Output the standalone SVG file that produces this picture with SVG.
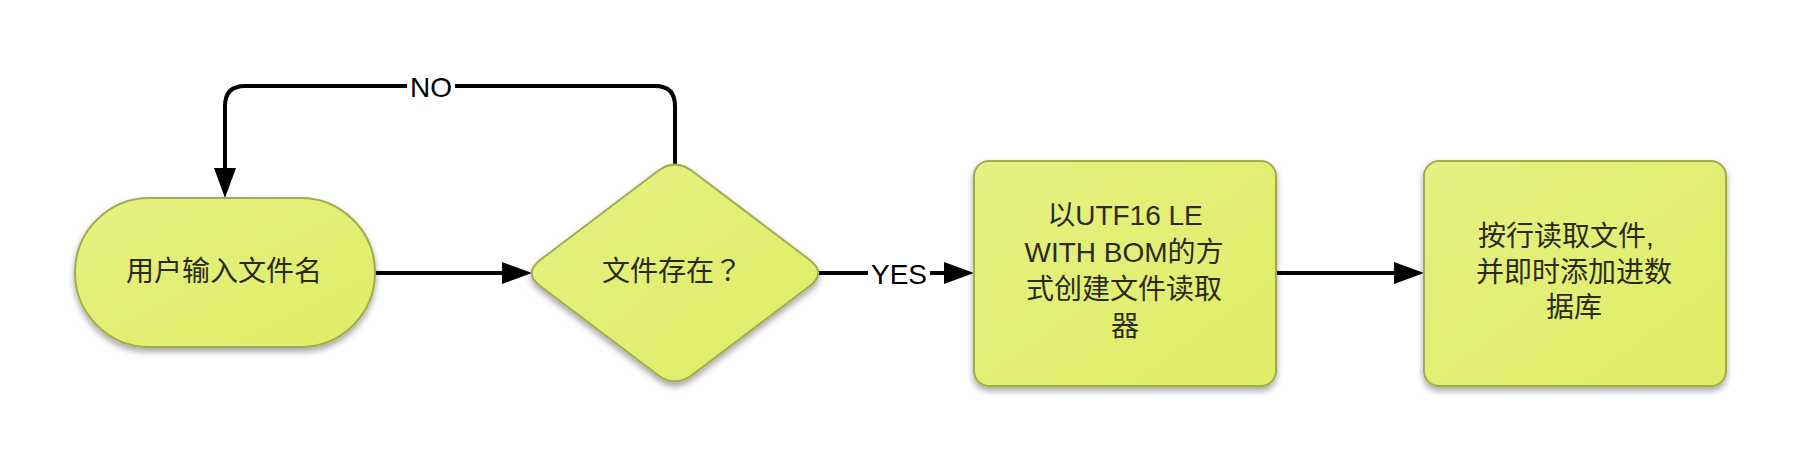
<svg xmlns="http://www.w3.org/2000/svg" width="1800" height="461" viewBox="0 0 1800 461">
<style>
.shape{fill:url(#g);stroke:#a2ac4e;stroke-width:2;filter:url(#sh)}
.t{font-family:"Liberation Sans","Noto Sans CJK SC",sans-serif;font-size:28px;fill:#2b2b1c;text-anchor:middle}
.cjk{font-family:"Noto Sans CJK SC",sans-serif}
.q{font-family:"Noto Sans CJK TC",sans-serif}
.lbl{font-family:"Liberation Sans","Noto Sans CJK SC",sans-serif;font-size:28px;fill:#000;text-anchor:middle}
.c{fill:none;stroke:#000;stroke-width:4;marker-end:url(#ah)}
</style>
<defs>
<linearGradient id="g" x1="0" y1="0" x2="1" y2="1">
<stop offset="0" stop-color="#e5f182"/>
<stop offset="1" stop-color="#dfed66"/>
</linearGradient>
<filter id="sh" x="-10%" y="-10%" width="120%" height="130%">
<feDropShadow dx="0" dy="4" stdDeviation="3" flood-color="#000" flood-opacity="0.35"/>
</filter>
<marker id="ah" markerUnits="userSpaceOnUse" markerWidth="30" markerHeight="22" refX="20" refY="11" orient="auto">
<path d="M0,0 L30,11 L0,22 Z" fill="#000"/>
</marker>
</defs>
<g id="connectors">
<path class="c" d="M675,165 L675,106 Q675,86 655,86 L245,86 Q225,86 225,106 L225,188"/>
<path class="c" d="M375,273 L522,273"/>
<path class="c" d="M817,273 L964,273"/>
<path class="c" d="M1276,273 L1414,273"/>
<rect x="407" y="72" width="48" height="30" fill="#fff"/>
<text class="lbl" x="431" y="97">NO</text>
<rect x="868" y="258" width="62" height="30" fill="#fff"/>
<text class="lbl" x="899" y="284">YES</text>
</g>
<g id="n1">
<rect class="shape" x="75" y="198" width="300" height="149" rx="74.5" ry="74.5"/>
<text class="t" x="224" y="281">用户输入文件名</text>
</g>
<g id="n2">
<path class="shape" d="M657.5,171.3 Q675,158 692.5,171.3 L809.5,259.7 Q827,273 809.5,286.3 L692.5,374.7 Q675,388 657.5,374.7 L540.5,286.3 Q523,273 540.5,259.7 Z"/>
<text class="t cjk" x="672" y="281">文件存在<tspan class="q">？</tspan></text>
</g>
<g id="n3">
<rect class="shape" x="974" y="161" width="302" height="225" rx="15" ry="15"/>
<text class="t" x="1125" y="225">以UTF16 LE</text>
<text class="t" x="1124" y="262">WITH BOM的方</text>
<text class="t" x="1124" y="299">式创建文件读取</text>
<text class="t" x="1125" y="336">器</text>
</g>
<g id="n4">
<rect class="shape" x="1424" y="161" width="302" height="225" rx="15" ry="15"/>
<text class="t" x="1566" y="246">按行读取文件,</text>
<text class="t" x="1574" y="282">并即时添加进数</text>
<text class="t" x="1574" y="317">据库</text>
</g>
</svg>
